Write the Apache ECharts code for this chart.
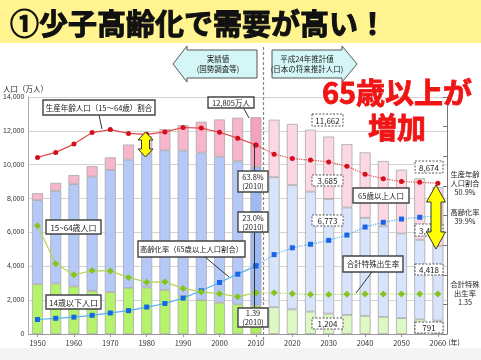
<!DOCTYPE html>
<html><head><meta charset="utf-8">
<script src="https://cdn.jsdelivr.net/npm/echarts@6/dist/echarts.min.js"></script>
<style>html,body{margin:0;padding:0;background:#fff}#c{width:481px;height:360px}</style>
</head><body><div id="c"></div>
<script>
const years = ['1950','1955','1960','1965','1970','1975','1980','1985','1990','1995','2000','2005','2010','2015','2020','2025','2030','2035','2040','2045','2050','2055','2060'];
const age0to14 = [2943,2980,2807,2553,2482,2722,2751,2603,2249,2001,1847,1759,1684,1583,1457,1324,1204,1129,1073,1012,939,861,791];
const age15to64 = [4966,5473,6047,6744,7212,7581,7883,8251,8590,8716,8622,8442,8173,7682,7341,7085,6773,6343,5787,5353,5001,4706,4418];
const age65plus = [411,475,535,624,739,887,1065,1247,1489,1826,2204,2576,2948,3395,3612,3657,3685,3741,3868,3856,3768,3626,3464];
const workingRatio = [59.6,61.3,64.1,68.0,69.0,67.7,67.4,68.2,69.7,69.5,68.1,66.1,63.8,60.7,59.2,58.7,58.1,56.6,53.9,52.4,51.5,51.2,50.9];
const agingRate = [4.9,5.3,5.7,6.3,7.1,7.9,9.1,10.3,12.1,14.6,17.4,20.2,23.0,26.8,29.1,30.3,31.6,33.4,36.1,37.7,38.8,39.4,39.9];
const fertility = [3.65,2.37,2.00,2.14,2.13,1.91,1.75,1.76,1.54,1.42,1.36,1.26,1.39,1.39,1.36,1.33,1.33,1.34,1.35,1.35,1.35,1.35,1.35];
const lastActual = 12; // index of 2010

const FONT = '"Noto Sans CJK JP", sans-serif';
const pastC = {g:'#b6f36c', b:'#b5c9f8', p:'#f8b6cd'};
const nowC  = {g:'#acee5c', b:'#9fb9f2', p:'#f4a2c0'};
const futC  = {g:'#ddf8c2', b:'#d8e4fb', p:'#fbd8e4'};

function barData(vals, key){
  return vals.map((v,i)=>({value:v, itemStyle:{color: i<lastActual?pastC[key]:(i===lastActual?nowC[key]:futC[key])}}));
}
function past(arr){ return arr.map((v,i)=> i<=lastActual ? v : null); }
function fut(arr){ return arr.map((v,i)=> i>=lastActual ? v : null); }

const barBase = {type:'bar', stack:'pop', barWidth:11, itemStyle:{borderColor:'#a8a8a8', borderWidth:0.8}, z:2};
function lineS(data, axis, color, symColor, symbol, size, dotted){
  return {type:'line', data, yAxisIndex:axis, symbol, symbolSize:size, z:5,
    lineStyle:{color, width:1.2, type: dotted?'dotted':'solid'},
    itemStyle:{color:symColor}, connectNulls:false};
}

const G = [];
const Z = 100;
function txt(x,y,text,size,opt){
  opt = opt||{};
  const st = {text, x, y, fill:opt.fill||'#222', font:(opt.weight||'normal')+' '+size+'px '+FONT,
    textAlign:opt.align||'center', align:opt.align||'center', textVerticalAlign:'middle', verticalAlign:'middle', lineHeight:opt.lh||size+1.5};
  if(opt.stroke){ st.stroke = opt.stroke; st.lineWidth = opt.sw||1; }
  G.push({type:'text', z:opt.z||Z+2, style:st});
}
function box(x1,y1,x2,y2,text,size,dashed,lh){
  G.push({type:'rect', z:Z, shape:{x:x1,y:y1,width:x2-x1,height:y2-y1},
    style:{fill:'#fff', stroke:'#444', lineWidth: dashed?0.9:1.4, lineDash: dashed?[2,1.5]:null}});
  txt((x1+x2)/2,(y1+y2)/2+0.5,text,size,{lh:lh});
}
function line(x1,y1,x2,y2,opt){
  opt=opt||{};
  G.push({type:'line', z:opt.z||Z, shape:{x1,y1,x2,y2}, style:{stroke:opt.stroke||'#333', lineWidth:opt.w||1, lineDash:opt.dash||null}});
}
function dblArrow(cx,y1,y2,hw,sw,hl){
  G.push({type:'polygon', z:Z+5, shape:{points:[[cx,y1],[cx+hw/2,y1+hl],[cx+sw/2,y1+hl],[cx+sw/2,y2-hl],[cx+hw/2,y2-hl],[cx,y2],[cx-hw/2,y2-hl],[cx-sw/2,y2-hl],[cx-sw/2,y1+hl],[cx-hw/2,y1+hl]]},
    style:{fill:'#ffff00', stroke:'#333', lineWidth:1}});
}

// Title band
G.push({type:'rect', z:1, shape:{x:0,y:0,width:481,height:43}, style:{fill:'#fff48f'}});
txt(10,24,'①少子高齢化で需要が高い！',29,{align:'left',weight:'bold',fill:'#111',stroke:'#111',sw:1,z:3});
// bottom strip
G.push({type:'rect', z:0, shape:{x:0,y:348,width:481,height:12}, style:{fill:'#f4f4f4'}});

// divider dashed line
line(263.5,47,263.5,347,{stroke:'#888',dash:[3,2],w:1.2,z:1});

// arrow boxes
G.push({type:'polygon', z:Z, shape:{points:[[257,50],[187,50],[187,46],[173,64],[187,82],[187,78],[257,78]]}, style:{fill:'#d4f6f6', stroke:'#555', lineWidth:1}});
txt(218,59.5,'実績値',7.5); txt(218,69.5,'(国勢調査等)',7.5);
G.push({type:'polygon', z:Z, shape:{points:[[272,50],[342,50],[342,46],[357,64],[342,82],[342,78],[272,78]]}, style:{fill:'#d4f6f6', stroke:'#555', lineWidth:1}});
txt(307,59.5,'平成24年推計値',7.5); txt(307,69.5,'(日本の将来推計人口)',7.5);

// y-axis name
txt(3,89,'人口（万人）',7.5,{align:'left'});

// leader lines
line(99,115,102,129);
line(243,107,249,118);
line(254.5,144,254.5,172);
line(254.5,232,254.5,308);
line(205,257,229,277);
line(372,272,356,293);

// boxes
box(43,100,155,115,'生産年齢人口（15～64歳）割合',7.5,false);
box(208,97,254,108,'12,805万人',7.5,false);
box(238,171,268,192,'63.8%\n(2010)',7.5,false,9);
box(238,212,268,232,'23.0%\n(2010)',7.5,false,9);
box(238,308,268,327,'1.39\n(2010)',7.5,false,9);
box(46,220,101,234,'15~64歳人口',8,false);
box(46,295,101,309,'14歳以下人口',8,false);
box(138,241,245,257,'高齢化率（65歳以上人口割合）',7.3,false);
box(343,256,403,272,'合計特殊出生率',7.5,false);
box(353,188,409,203,'65歳以上人口',7.5,false);
box(312,114,343,126,'11,662',8,true);
box(312,175,343,186,'3,685',8,true);
box(312,215,343,226,'6,773',8,true);
box(312,318,343,329,'1,204',8,true);
box(415,161,443,173,'8,674',8,true);
box(415,224,443,236,'3,464',8,true);
box(415,264,443,275,'4,418',8,true);
box(415,322,443,333,'791',8,true);

// right texts
txt(465,174,'生産年齢',7.3); txt(465,183,'人口割合',7.3); txt(465,192,'50.9%',7.3);
txt(465,212,'高齢化率',7.3); txt(465,221,'39.9%',7.3);
txt(465,284,'合計特殊',7.3); txt(465,293,'出生率',7.3); txt(465,302,'1.35',7.3);
txt(454,342,'(年)',7,{});

// yellow arrows
dblArrow(145.5,132,157,15,8,8);
dblArrow(436,185,249,19,10,17);

// big red text
txt(397,93,'65歳以上が',29,{weight:'bold',fill:'#f01414',stroke:'#f01414',sw:0.8,z:Z+1});
txt(397,128,'増加',29,{weight:'bold',fill:'#f01414',stroke:'#f01414',sw:0.8,z:Z+1});

const chart = echarts.init(document.getElementById('c'), null, {renderer:'canvas'});
chart.setOption({
  backgroundColor:'#fff',
  animation:false,
  grid:{left:28, right:34, top:97, bottom:26},
  xAxis:{type:'category', data:years, boundaryGap:true,
    axisLine:{lineStyle:{color:'#999'}},
    axisTick:{show:true, interval:1, alignWithLabel:true, length:3, lineStyle:{color:'#999'}},
    axisLabel:{interval:1, fontSize:7.5, color:'#333', margin:5, fontFamily:FONT}},
  yAxis:[
    {type:'value', min:0, max:14000, interval:2000,
      axisLine:{show:true, lineStyle:{color:'#aaa'}}, axisTick:{show:false},
      axisLabel:{fontSize:7, color:'#333', margin:4, fontFamily:'"Liberation Sans", sans-serif', formatter:v=>v.toLocaleString('en-US')},
      splitLine:{lineStyle:{color:'#d4d4d4'}}},
    {type:'value', min:0, max:80, interval:10, position:'right',
      axisLine:{show:true, lineStyle:{color:'#777'}}, axisTick:{show:true, inside:true, length:4, lineStyle:{color:'#777'}},
      axisLabel:{show:false}, splitLine:{show:false}},
    {type:'value', min:0, max:8, show:false}
  ],
  series:[
    Object.assign({name:'14歳以下人口', data:barData(age0to14,'g')}, barBase),
    Object.assign({name:'15~64歳人口', data:barData(age15to64,'b')}, barBase),
    Object.assign({name:'65歳以上人口', data:barData(age65plus,'p')}, barBase),
    lineS(past(workingRatio),1,'#e64848','#d40f1c','circle',5,false),
    lineS(fut(workingRatio),1,'#e64848','#d40f1c','circle',5,true),
    lineS(past(agingRate),1,'#55b0f2','#1866e6','rect',5,false),
    lineS(fut(agingRate),1,'#55b0f2','#1866e6','rect',5,true),
    lineS(past(fertility),2,'#b4d655','#84c41c','diamond',7,false),
    lineS(fut(fertility),2,'#b4d655','#84c41c','diamond',7,true)
  ],
  graphic:{elements:G}
});
</script></body></html>
